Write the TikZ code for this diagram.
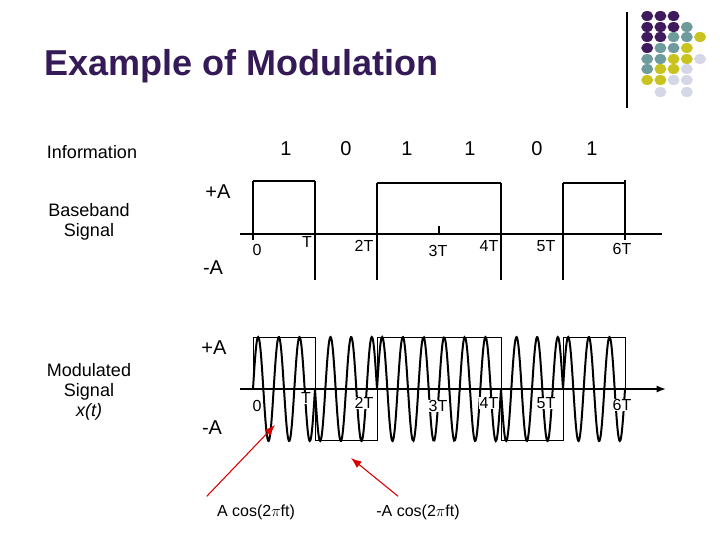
\documentclass[tikz,border=0pt]{standalone}
\usepackage{fontspec}
\setmainfont{Liberation Sans}
\usetikzlibrary{arrows.meta,shapes.geometric}
\definecolor{P}{HTML}{3F1B5E}
\definecolor{T}{HTML}{6E9C9C}
\definecolor{Y}{HTML}{C8C31E}
\definecolor{L}{HTML}{D5D6E6}
\definecolor{ttl}{HTML}{341A56}
\tikzset{lbl/.style={font=\fontsize{13.5}{15}\selectfont,align=center,inner sep=0},
 sm/.style={font=\fontsize{12}{13}\selectfont,inner sep=0},
 sig/.style={line width=1.5pt},
 dot/.style={ellipse,minimum width=9pt,minimum height=7.5pt,inner sep=0},
 ann/.style={red!85!black,line width=0.8pt,-{Latex[length=8pt]}}}
\begin{document}
\begin{tikzpicture}[x=0.75pt,y=-0.75pt]
\useasboundingbox (0,0) rectangle (720,540);
% decoration
\draw[line width=0.8pt] (627,12) -- (627,108);
\foreach \r/\cols in {16/{1/P,2/P,3/P},27/{1/P,2/P,3/P,4/T},37/{1/P,2/P,3/T,4/T,5/Y},48/{1/P,2/T,3/T,4/Y},59/{1/T,2/T,3/Y,4/Y,5/L},69/{1/T,2/Y,3/Y,4/L},80/{1/Y,2/Y,3/L,4/L},92/{2/L,4/L}}{
 \foreach \c/\k in \cols {
  \node[dot,fill=\k] at ({634+13.2*\c},\r) {};
 }}
\node[anchor=west,inner sep=0,text=ttl,font=\fontsize{27}{30}\selectfont\bfseries] (title) at (44,66) {Example of Modulation};
% left labels
\node[lbl] (info) at (92,152) {Information};
\node[lbl] (bb) at (89,222) {Baseband\\Signal};
\node[lbl] (mod) at (89,392) {Modulated\\Signal\\\textit{x(t)}};
\node[lbl,font=\fontsize{15}{16}\selectfont] (pa1) at (218,192) {+A};
\node[lbl,font=\fontsize{15}{16}\selectfont] (ma1) at (213,268) {-A};
\node[lbl,font=\fontsize{15}{16}\selectfont] (pa2) at (214,348) {+A};
\node[lbl,font=\fontsize{15}{16}\selectfont] (ma2) at (212,428) {-A};
% bits
\foreach \x/\b in {286/1,346/0,407/1,470/1,537/0,592/1}
 \node[lbl,font=\fontsize{15}{16}\selectfont] at (\x,149) {\b};
% baseband
\draw[line width=1pt] (240,234) -- (662,234);
\draw[line width=1pt] (253,181) -- (315,181) (253,181) -- (253,240)
 (315,181) -- (315,280) (377,183) -- (377,280) (377,183) -- (501,183) (501,183) -- (501,280)
 (563,183) -- (563,280) (563,183) -- (625,183) (625,180) -- (625,240) (439,226) -- (439,234);
\foreach \x/\t/\dy in {257/0/250,307/T/242,364/2T/246,438/3T/251,489/4T/246,546/5T/246,622/6T/249}
 \node[sm] at (\x,\dy) {\t};
% modulated
\draw[line width=1.2pt,-{Latex[length=7pt]}] (240,389) -- (666,389);
\draw[line width=0.4pt] (253,337) rectangle (315,389) (315,389) rectangle (377,440)
 (377,337) rectangle (501,389) (501,389) rectangle (563,440) (563,337) rectangle (625,389);
\foreach \a/\b/\s in {253/315/1,315/377/-1,377/501/1,501/563/-1,563/625/1}
 \draw[sig,smooth,samples=120,domain=\a:\b] plot (\x,{389-\s*52*sin(17.41935*(\x-253))});
\foreach \x/\t/\dy in {257/0/406,306/T/398,364/2T/403,438/3T/406,489/4T/403,546/5T/403,622/6T/405}
 \node[sm,fill=white,inner sep=0.3pt] at (\x,\dy) {\t};
% annotations
\node[sm] (acos) at (256,512) {A cos(2$\pi$ft)};
\node[sm] (macos) at (418,512) {-A cos(2$\pi$ft)};
\coordinate (p1) at (275,425);
\coordinate (p2) at (351,458);
\draw[ann] (acos.north west) ++(-10,-8) -- (p1);
\draw[ann] (macos.north west) ++(22,-8) -- (p2);
\end{tikzpicture}
\end{document}
